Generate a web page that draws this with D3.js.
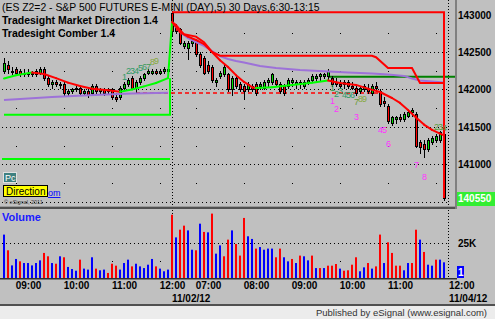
<!DOCTYPE html>
<html>
  <head>
    <meta charset="utf-8">
    <title>ES Z2 5 min</title>
    <script src="https://d3js.org/d3.v7.min.js"></script>
    <style>
      body { margin: 0; background: #c0c0c0; }
      svg { display: block; font-family: "Liberation Sans", Arial, sans-serif; }
      .bold { font-weight: bold; }
    </style>
  </head>
  <body>
    <div id="chart"></div>
    <script>

      // 5 minute bars, [open, high, low, close]
      const bars = [
        [142250,142425,142225,142350],[142325,142375,142225,142275],[142250,142300,142200,142250],[142275,142300,142200,142225],
        [142250,142275,142175,142200],[142200,142275,142175,142225],[142225,142275,142175,142200],[142225,142250,142175,142225],
        [142200,142275,142175,142250],[142225,142300,142200,142275],[142275,142300,142125,142150],[142150,142175,142050,142075],
        [142075,142125,142025,142100],[142100,142125,142050,142075],[142075,142100,142025,142075],[142075,142100,141925,141950],
        [141950,142000,141925,141975],[141975,142025,141950,142000],[142000,142050,141975,142025],[142025,142050,141925,141950],
        [141950,142000,141925,141975],[141975,142000,141900,141925],[141950,142075,141925,142050],[142050,142075,141950,141975],
        [141975,142025,141950,142000],[142000,142025,141925,141950],[141975,142025,141950,142000],[142000,142025,141875,141900],
        [141900,141950,141850,141875],[141900,142050,141875,142025],[142025,142100,142000,142075],[142075,142150,142050,142125],
        [142150,142175,142000,142025],[142025,142125,141950,142100],[142100,142175,142075,142150],[142150,142225,142125,142200],
        [142225,142275,142200,142250],[142225,142275,142200,142250],[142250,142275,142200,142225],[142225,142275,142200,142250],
        [142250,142300,142225,142275],[142250,142300,142225,142275],
        // 11/04/12
        [143025,143050,142725,142775],[142850,142875,142750,142775],[142800,142825,142600,142625],[142575,142650,142550,142625],
        [142550,142650,142400,142625],[142625,142675,142575,142650],[142650,142675,142450,142475],[142475,142500,142300,142325],
        [142425,142450,142200,142225],[142325,142375,142225,142250],[142300,142325,142100,142125],[142100,142150,142050,142125],
        [142175,142250,142150,142225],[142200,142325,142175,142300],[142200,142225,141975,142000],[142000,142175,141925,142150],
        [142150,142175,142025,142050],[142075,142100,141975,142000],[142050,142075,141875,141975],[142000,142100,141975,142075],
        [142050,142075,141975,142000],[142075,142100,141925,141950],[142050,142100,142000,142075],[142025,142125,142000,142100],
        [142100,142150,142050,142125],[142100,142225,142075,142200],[142125,142150,142050,142075],[142075,142100,141950,141975],
        [142050,142075,141925,141950],[142050,142150,142025,142125],[142100,142150,142050,142125],[142075,142125,142025,142100],
        [142075,142125,142025,142100],[142050,142125,142025,142100],[142100,142150,142075,142125],[142125,142200,142100,142175],
        [142150,142200,142100,142175],[142175,142225,142125,142200],[142175,142225,142150,142200],[142175,142275,142125,142250],
        [142150,142175,142050,142075],[142100,142150,142050,142075],[142075,142125,142025,142050],[142075,142125,142025,142100],
        [142100,142125,142025,142050],[142050,142100,142000,142025],[142025,142050,141925,141950],[141975,142050,141950,142025],
        [142000,142075,141975,142050],[142025,142075,141950,141975],[141950,142075,141925,142050],[142050,142100,141975,142025],
        [141975,142000,141775,141800],[141850,141900,141775,141825],[141775,141800,141550,141575],[141550,141650,141525,141625],
        [141600,141650,141550,141625],[141625,141675,141575,141600],[141600,141700,141575,141675],[141650,141725,141625,141700],
        [141700,141750,141650,141725],[141675,141700,141225,141250],[141300,141325,141150,141225],[141275,141325,141100,141200],
        [141200,141350,141175,141325],[141300,141375,141275,141350],[141325,141400,141300,141375],[141325,141450,141300,141425],
        [141400,141425,140525,140550]
      ];

      // volume in thousands, and up (1) / down (0) colouring
      const volume = [31,19.8,9,13.6,11.9,10.7,10.7,9,10.7,12.6,17.9,15.5,10.7,10.2,15.5,14.8,7.9,6.4,5.2,13.1,6.7,6,14.8,6.7,5.5,6,3.6,10.2,8.8,6,10.7,13.1,8.3,10.2,8.3,7.1,9.5,13.6,8.3,6.7,4.8,6,
        45.2,29,34.5,37.4,34,20.2,19.8,38.8,32.9,32.6,46,17.4,23.3,15.5,27.4,34,24.3,16,42.9,29.8,27.9,21,22.1,20.2,21,21,14.8,21,14.8,11.9,13.6,10.7,16,15.5,12.6,16,
        7.1,7.1,7.1,8.8,8.8,10,6.7,5.2,5.5,9.5,14.8,4.8,7.6,10.7,6.7,8.3,31,10.7,25.5,17.9,8.8,8.8,5.5,10.7,10.7,34.5,27.4,18.6,9.5,8.8,13.1,13.1,11.2];
      const volUp = [1,0,1,1,0,1,1,1,1,1,0,0,1,0,1,0,1,1,1,0,1,1,1,0,1,1,0,0,0,1,1,1,0,1,1,1,1,1,0,1,1,1,
        0,1,0,0,1,1,0,1,0,1,0,1,1,0,0,1,0,0,0,1,1,0,1,1,1,1,0,0,1,1,0,1,0,1,1,0,
        1,0,1,0,0,0,1,0,0,0,0,1,1,0,1,0,0,1,0,0,0,0,1,1,0,0,1,0,1,1,0,1,1];

      // study lines as [bar, price] knots
      const maLine = [[0,142145],[3,142190],[7,142225],[10,142205],[13,142150],[16,142090],[19,142045],[22,142010],[26,141990],[29,141970],
        [32,141998],[35,142040],[38,142085],[41,142150],
        [42,142900],[44,142765],[46,142705],[48,142660],[50,142605],[52,142500],[54,142390],[56,142300],[58,142190],[60,142100],[62,142030],[63,142020],
        [67,142030],[72,142060],[77,142090],[81,142120],
        [84,142085],[88,142060],[91,142010],[94,141965],[97,141885],[99,141820],[101,141725],[103,141625],[105,141530],[107,141460],[109,141410],[110,141385]];
      const stepLine = [[42,142900],[43,142860],[44,142795],[45,142735],[48,142705],[50,142630],[52,142500],[54,142450],[92,142450],[93,142430],
        [96,142285],[102,142285],[104,142085],[110,142085],[110,140550]];
      const topLine = [[42,143030],[110,143030],[110,140550]];
      const vwapDay1 = [[0,141860],[12,141900],[24,141930],[32,141945],[41,141955]];
      const vwapDay2 = [[42,142900],[44,142765],[46,142685],[48,142633],[50,142580],[52,142513],[54,142446],[56,142406],[58,142380],[60,142360],
        [64,142312],[68,142285],[74,142260],[80,142243],[86,142227],[92,142211],[96,142200],[100,142180],[102,142145],[104,142119],[107,142104],[110,142091]];
      const upperLevel = [[0,141660],[41.5,141660],[41.5,142150]];
      const lowerLevel = [[-0.5,141070],[41.5,141070]];
      const pivotLevel = [[81,142170],[113,142170]];
      const dashLevel = [[33,141952],[94,141952]];

      // bar counts
      const counts = [
        ['1',30,142165,'#2f9a66'],['2',31,142250,'#2f9a66'],['3',32,142240,'#2f9a66'],['4',33,142250,'#2f9a66'],['5',34,142280,'#2f9a66'],
        ['6',35,142300,'#3d9a5a'],['7',36,142305,'#3d9a5a'],['8',37,142365,'#86a83a'],['9',38,142380,'#86a83a'],
        ['1',82,142019,'#3a9a4a'],['2',83,141939,'#2f9a66'],['3',84,141979,'#2f9a66'],['4',85,141925,'#2f9a66'],['5',86,141925,'#2f9a66'],
        ['6',87,141925,'#2f9a66'],['7',88,141832,'#6a9a3a'],['8',89,141872,'#86a83a'],['9',90,141872,'#86a83a'],
        ['1',82,141845,'#ff33ff'],['2',83,141737,'#ff33ff'],['3',88,141632,'#ff33ff'],['4',94,141458,'#ff33ff'],['5',95,141458,'#ff33ff'],
        ['6',96,141272,'#ff33ff'],['7',103,140991,'#ff33ff'],['8',105,140830,'#ff33ff'],
        ['2',108,141498,'#5a9a3a'],['3',109,141498,'#5a9a3a'],['4',110,141485,'#5a9a3a']
      ];

      const priceTicks = [143000, 142500, 142000, 141500, 141000];
      const gridPrices = [142500, 142000, 141500, 141000, 140500];
      const midPrices = [142750, 142250, 141750, 141250, 140750];
      const gridBars = [3, 15, 27, 39, 48, 60, 72, 84, 96, 108];
      const timeTicks = [[6,'09:00'],[18,'10:00'],[30,'11:00'],[42,'12:00'],[51,'07:00'],[63,'08:00'],[75,'09:00'],[87,'10:00'],[99,'11:00']];
      const dateTicks = [[42,'11/02/12']];
      const lastTime = [111,'12:00','11/04/12'];
      const lastPrice = 140550;

      const width = 495, height = 319;
      const svg = d3.select('#chart').append('svg')
          .attr('width', width)
          .attr('height', height);

      const x = d3.scaleLinear().domain([0, 111]).range([4, 448]);
      const y = d3.scaleLinear().domain([140550, 143000]).range([198, 14.5]);
      const yv = d3.scaleLinear().domain([0, 25]).range([278, 243]);

      svg.append('rect').attr('width', width).attr('height', height).attr('fill', '#c0c0c0');

      // grid
      const grid = svg.append('g').attr('stroke', '#000').attr('stroke-dasharray', '1,3');
      grid.selectAll('line.h').data(gridPrices).enter().append('line')
          .attr('x1', 2).attr('x2', 449)
          .attr('y1', d => Math.round(y(d)) + 0.5).attr('y2', d => Math.round(y(d)) + 0.5);
      grid.append('line')
          .attr('x1', 2).attr('x2', 449)
          .attr('y1', Math.round(yv(25)) + 0.5).attr('y2', Math.round(yv(25)) + 0.5);
      grid.selectAll('line.v').data([42, 111]).enter().append('line')
          .attr('stroke-dasharray', '1,2')
          .attr('x1', d => x(d) + 0.5).attr('x2', d => x(d) + 0.5)
          .attr('y1', 0).attr('y2', 278);
      const dots = svg.append('g').attr('fill', '#000');
      gridBars.forEach(b => {
        midPrices.forEach(p => {
          dots.append('rect').attr('x', Math.round(x(b))).attr('y', Math.round(y(p))).attr('width', 1).attr('height', 1);
        });
        dots.append('rect').attr('x', Math.round(x(b))).attr('y', Math.round(yv(12.5))).attr('width', 1).attr('height', 1);
      });

      const line = d3.line().x(d => x(d[0])).y(d => y(d[1]));

      // level lines
      svg.append('path').attr('d', line(upperLevel)).attr('fill', 'none').attr('stroke', '#00ff00').attr('stroke-width', 2);
      svg.append('path').attr('d', line(lowerLevel)).attr('fill', 'none').attr('stroke', '#00ff00').attr('stroke-width', 2);
      svg.append('path').attr('d', line(pivotLevel)).attr('fill', 'none').attr('stroke', '#008000').attr('stroke-width', 2);
      svg.append('path').attr('d', line(dashLevel)).attr('fill', 'none').attr('stroke', '#ff0000')
          .attr('stroke-width', 1.5).attr('stroke-dasharray', '4,3');

      // candles
      const candles = svg.append('g').attr('shape-rendering', 'crispEdges');
      bars.forEach((b, i) => {
        const cx = Math.round(x(i));
        candles.append('line')
            .attr('x1', cx + 0.5).attr('x2', cx + 0.5)
            .attr('y1', Math.round(y(b[1]))).attr('y2', Math.round(y(b[2])) + 1)
            .attr('stroke', '#000');
        const top = Math.round(y(Math.max(b[0], b[3])));
        const bot = Math.round(y(Math.min(b[0], b[3])));
        candles.append('rect')
            .attr('x', cx - 0.5).attr('width', 2)
            .attr('y', top + 0.5).attr('height', Math.max(bot - top, 1))
            .attr('fill', b[3] >= b[0] ? '#00e000' : '#ff0000')
            .attr('stroke', '#000');
      });

      // vwap
      [vwapDay1, vwapDay2].forEach(d => {
        svg.append('path').attr('d', line(d)).attr('fill', 'none').attr('stroke', '#9d72d8').attr('stroke-width', 2);
      });

      // moving average, green while rising and red while falling
      d3.pairs(maLine).forEach(p => {
        svg.append('path').attr('d', line(p)).attr('fill', 'none')
            .attr('stroke', p[1][1] >= p[0][1] ? '#00ff00' : '#ff0000')
            .attr('stroke-width', 2).attr('stroke-linecap', 'round');
      });

      svg.append('path').attr('d', line(stepLine)).attr('fill', 'none').attr('stroke', '#ff0000').attr('stroke-width', 2);
      svg.append('path').attr('d', line(topLine)).attr('fill', 'none').attr('stroke', '#ff0000').attr('stroke-width', 2);

      // bar counts
      svg.append('g').selectAll('text').data(counts).enter().append('text')
          .attr('x', d => x(d[1]) + 0.5)
          .attr('y', d => y(d[2]) + 3)
          .attr('text-anchor', 'middle')
          .attr('font-size', 9)
          .attr('fill', d => d[3])
          .text(d => d[0]);

      // titles
      svg.append('text').attr('x', 2).attr('y', 11).attr('font-size', 10.4)
          .text('(ES Z2=2 - S&P 500 FUTURES E-MINI (DAY),5) 30 Days,6:30-13:15');
      svg.append('text').attr('class', 'bold').attr('x', 2).attr('y', 24).attr('font-size', 10.5)
          .text('Tradesight Market Direction 1.4');
      svg.append('text').attr('class', 'bold').attr('x', 2).attr('y', 37).attr('font-size', 10.5)
          .text('Tradesight Comber 1.4');

      // little boxes bottom left
      svg.append('rect').attr('x', 3.5).attr('y', 172.5).attr('width', 13).attr('height', 10)
          .attr('fill', '#3f8080').attr('stroke', '#e0e0e0');
      svg.append('text').attr('x', 5).attr('y', 181).attr('font-size', 9).attr('fill', '#fff').text('Pc');
      svg.append('text').attr('x', 48).attr('y', 196).attr('font-size', 9)
          .attr('fill', '#0000ff').attr('text-decoration', 'underline').text('om');
      svg.append('rect').attr('x', 3.5).attr('y', 185.5).attr('width', 44).attr('height', 11)
          .attr('fill', '#ffff00').attr('stroke', '#000');
      svg.append('text').attr('x', 6).attr('y', 195).attr('font-size', 10).text('Direction');
      svg.append('text').attr('x', 4).attr('y', 204).attr('font-size', 5.5).attr('fill', '#333').text('\u00a9 eSignal, 2011');

      // volume
      svg.append('g').selectAll('rect').data(volume).enter().append('rect')
          .attr('x', (d, i) => Math.round(x(i)) - 1)
          .attr('width', 2)
          .attr('y', d => yv(d))
          .attr('height', d => 278 - yv(d))
          .attr('fill', (d, i) => volUp[i] ? '#0000ff' : '#ff0000');
      svg.append('text').attr('class', 'bold').attr('x', 2).attr('y', 221).attr('font-size', 11)
          .attr('fill', '#1a1aff').text('Volume');

      // pane borders
      svg.append('rect').attr('x', 0).attr('y', 206).attr('width', 457).attr('height', 1).attr('fill', '#9a9a9a');
      svg.append('rect').attr('x', 0).attr('y', 207).attr('width', 457).attr('height', 2).attr('fill', '#505050');
      svg.append('rect').attr('x', 455).attr('y', 0).attr('width', 2).attr('height', 209).attr('fill', '#808080');
      svg.append('rect').attr('x', 0).attr('y', 278).attr('width', 457).attr('height', 1.5).attr('fill', '#303030');

      // price axis
      svg.append('g').selectAll('text').data(priceTicks).enter().append('text')
          .attr('class', 'bold').attr('x', 458).attr('y', d => y(d) + 4)
          .attr('font-size', 10).text(d => d);
      svg.append('rect').attr('x', 457).attr('y', 192).attr('width', 38).attr('height', 14).attr('fill', '#33ee33');
      svg.append('text').attr('class', 'bold').attr('x', 458).attr('y', y(lastPrice) + 4)
          .attr('font-size', 10).attr('fill', '#fff').text(lastPrice);
      svg.append('text').attr('class', 'bold').attr('x', 458).attr('y', yv(25) + 4)
          .attr('font-size', 10).text('25K');
      svg.append('rect').attr('x', 457).attr('y', 266).attr('width', 7).attr('height', 12).attr('fill', '#0000ff');
      svg.append('text').attr('class', 'bold').attr('x', 458).attr('y', 276)
          .attr('font-size', 10).attr('fill', '#fff').text('1');

      // time axis
      svg.append('g').selectAll('text').data(timeTicks).enter().append('text')
          .attr('class', 'bold').attr('x', d => x(d[0]) + 0.5).attr('y', 289)
          .attr('text-anchor', 'middle').attr('font-size', 10).text(d => d[1]);
      svg.append('g').selectAll('text').data(dateTicks).enter().append('text')
          .attr('class', 'bold').attr('x', d => x(d[0])).attr('y', 302)
          .attr('font-size', 10).text(d => d[1]);
      svg.append('text').attr('class', 'bold').attr('x', x(lastTime[0]) + 1).attr('y', 289)
          .attr('font-size', 10).text(lastTime[1]);
      svg.append('text').attr('class', 'bold').attr('x', x(lastTime[0]) + 1).attr('y', 302)
          .attr('font-size', 10).text(lastTime[2]);

      // footer
      svg.append('rect').attr('x', 0).attr('y', 304).attr('width', width).attr('height', 2).attr('fill', '#505050');
      svg.append('rect').attr('x', 0).attr('y', 306).attr('width', width).attr('height', 13).attr('fill', '#ececec');
      svg.append('text').attr('x', 487).attr('y', 316).attr('text-anchor', 'end').attr('font-size', 9.5)
          .attr('fill', '#333').text('Published by eSignal (www.esignal.com)');

    </script>
  </body>
</html>
